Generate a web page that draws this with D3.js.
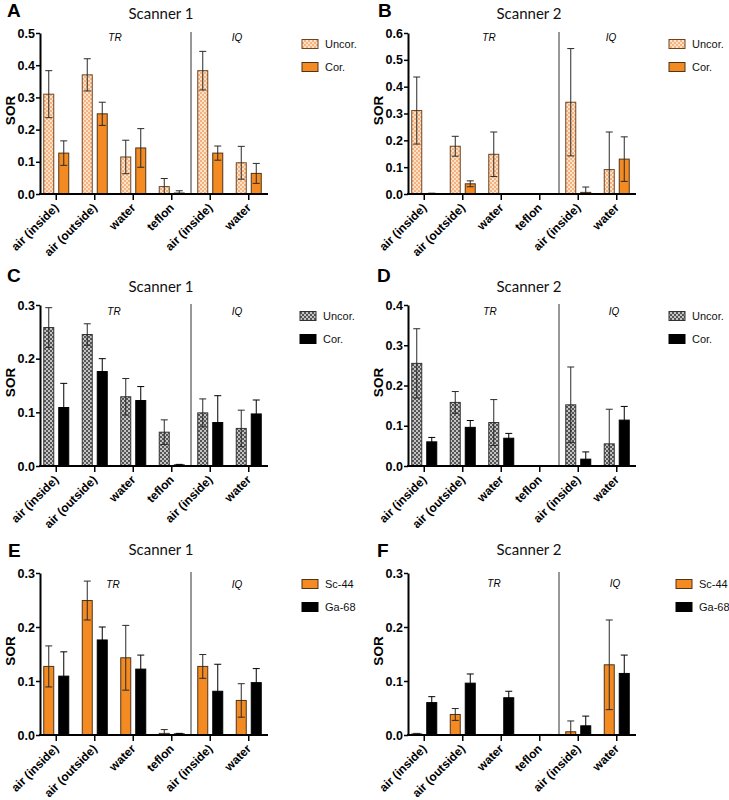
<!DOCTYPE html>
<html><head><meta charset="utf-8">
<script src="https://cdn.jsdelivr.net/npm/d3@7"></script>
<style>
body{margin:0;background:#fff;}
svg{display:block;}
</style></head>
<body>
<svg id="chart" width="729" height="800"></svg>
<script>
// ---- data ----
const categories = ["air (inside)", "air (outside)", "water", "teflon", "air (inside)", "water"];
const groupLabels = ["TR", "IQ"];
// Scanner 1, Sc-44
const s1Sc44UncorMean = [0.310, 0.370, 0.115, 0.023, 0.383, 0.097];
const s1Sc44UncorErr  = [0.073, 0.050, 0.052, 0.025, 0.060, 0.051];
const s1Sc44CorMean   = [0.127, 0.249, 0.143, 0.003, 0.127, 0.064];
const s1Sc44CorErr    = [0.038, 0.036, 0.060, 0.007, 0.022, 0.031];
// Scanner 2, Sc-44
const s2Sc44UncorMean = [0.311, 0.178, 0.148, 0.000, 0.342, 0.091];
const s2Sc44UncorErr  = [0.125, 0.037, 0.083, 0.000, 0.200, 0.140];
const s2Sc44CorMean   = [0.002, 0.038, 0.000, 0.000, 0.006, 0.130];
const s2Sc44CorErr    = [0.001, 0.011, 0.000, 0.000, 0.020, 0.083];
// Scanner 1, Ga-68
const s1Ga68UncorMean = [0.258, 0.245, 0.129, 0.063, 0.099, 0.070];
const s1Ga68UncorErr  = [0.037, 0.020, 0.034, 0.023, 0.026, 0.034];
const s1Ga68CorMean   = [0.109, 0.176, 0.122, 0.002, 0.081, 0.097];
const s1Ga68CorErr    = [0.045, 0.024, 0.026, 0.001, 0.050, 0.026];
// Scanner 2, Ga-68
const s2Ga68UncorMean = [0.255, 0.158, 0.108, 0.000, 0.152, 0.055];
const s2Ga68UncorErr  = [0.086, 0.027, 0.057, 0.000, 0.094, 0.086];
const s2Ga68CorMean   = [0.060, 0.096, 0.069, 0.001, 0.017, 0.114];
const s2Ga68CorErr    = [0.011, 0.017, 0.012, 0.000, 0.018, 0.034];

const ticksA = [0, 0.1, 0.2, 0.3, 0.4, 0.5];
const ticksB = [0, 0.1, 0.2, 0.3, 0.4, 0.5, 0.6];
const ticksC = [0, 0.1, 0.2, 0.3];
const ticksD = [0, 0.1, 0.2, 0.3, 0.4];

// ---- styles ----
const svg = d3.select("#chart");
const defs = svg.append("defs");
function checker(id, light, dark) {
  const p = defs.append("pattern").attr("id", id).attr("patternUnits", "userSpaceOnUse")
    .attr("width", 4).attr("height", 4);
  p.append("rect").attr("width", 4).attr("height", 4).attr("fill", light);
  p.append("rect").attr("width", 2).attr("height", 2).attr("fill", dark);
  p.append("rect").attr("x", 2).attr("y", 2).attr("width", 2).attr("height", 2).attr("fill", dark);
}
checker("patOrange", "#fde2c6", "#f4b283");
checker("patGray", "#c4c4c4", "#555555");

const ORANGE = "#f38a22";
const stUncorO = {fill: "url(#patOrange)", stroke: "#6e4420"};
const stCorO   = {fill: ORANGE, stroke: "#4f3318"};
const stUncorG = {fill: "url(#patGray)", stroke: "#333"};
const stBlack  = {fill: "#000", stroke: "#000"};

const panels = [
  {letter: "A", lx: 7,   ly: 17,  ty: 19,  title: "Scanner 1", ox: 40,  top: 33,  zero: 194, ticks: ticksA, ann: 8,
   series: [[s1Sc44UncorMean, s1Sc44UncorErr], [s1Sc44CorMean, s1Sc44CorErr]], styles: [stUncorO, stCorO],
   names: ["Uncor.", "Cor."], legX: 302, trX: 75, iqX: 197},
  {letter: "B", lx: 378, ly: 17,  ty: 19,  title: "Scanner 2", ox: 408, top: 33,  zero: 194, ticks: ticksB, ann: 8,
   series: [[s2Sc44UncorMean, s2Sc44UncorErr], [s2Sc44CorMean, s2Sc44CorErr]], styles: [stUncorO, stCorO],
   names: ["Uncor.", "Cor."], legX: 669, trX: 81, iqX: 203},
  {letter: "C", lx: 7,   ly: 282, ty: 292, title: "Scanner 1", ox: 40,  top: 305, zero: 466, ticks: ticksC, ann: 10,
   series: [[s1Ga68UncorMean, s1Ga68UncorErr], [s1Ga68CorMean, s1Ga68CorErr]], styles: [stUncorG, stBlack],
   names: ["Uncor.", "Cor."], legX: 300, trX: 74, iqX: 197},
  {letter: "D", lx: 377, ly: 282, ty: 292, title: "Scanner 2", ox: 408, top: 305, zero: 466, ticks: ticksD, ann: 10,
   series: [[s2Ga68UncorMean, s2Ga68UncorErr], [s2Ga68CorMean, s2Ga68CorErr]], styles: [stUncorG, stBlack],
   names: ["Uncor.", "Cor."], legX: 669, trX: 82, iqX: 206},
  {letter: "E", lx: 8,   ly: 557, ty: 555, title: "Scanner 1", ox: 40,  top: 573, zero: 735, ticks: ticksC, ann: 15,
   series: [[s1Sc44CorMean, s1Sc44CorErr], [s1Ga68CorMean, s1Ga68CorErr]], styles: [stCorO, stBlack],
   names: ["Sc-44", "Ga-68"], legX: 302, trX: 73, iqX: 197},
  {letter: "F", lx: 377, ly: 557, ty: 555, title: "Scanner 2", ox: 408, top: 573, zero: 735, ticks: ticksC, ann: 14,
   series: [[s2Sc44CorMean, s2Sc44CorErr], [s2Ga68CorMean, s2Ga68CorErr]], styles: [stCorO, stBlack],
   names: ["Sc-44", "Ga-68"], legX: 676, trX: 86, iqX: 207}
];

const BOLD = "'Liberation Sans', Arial, sans-serif";

panels.forEach(p => {
  const g = svg.append("g");
  const ymax = p.ticks[p.ticks.length - 1];
  const y = d3.scaleLinear().domain([0, ymax]).range([p.zero, p.top]);
  const x = d3.scaleBand().domain(d3.range(categories.length)).range([p.ox - 3, p.ox + 228]).padding(0);
  const axisEnd = p.ox + 228;

  // panel letter and title
  g.append("text").attr("x", p.lx).attr("y", p.ly).text(p.letter)
    .attr("font-family", BOLD).attr("font-weight", "bold").attr("font-size", 19).attr("fill", "#000");
  g.append("text").attr("x", p.ox + 121).attr("y", p.ty)
    .attr("text-anchor", "middle").text(p.title)
    .attr("font-family", "Lato, 'Open Sans', sans-serif").attr("font-size", 15).attr("fill", "#111");

  // divider between TR and IQ
  const divX = (x(3) + x(4) + x.bandwidth()) / 2;
  g.append("line").attr("x1", divX).attr("x2", divX).attr("y1", p.top - 1).attr("y2", p.zero)
    .attr("stroke", "#333").attr("stroke-width", 1);
  g.append("text").attr("x", p.ox + p.trX).attr("y", p.top + p.ann).attr("text-anchor", "middle")
    .text(groupLabels[0]).attr("font-family", BOLD).attr("font-style", "italic").attr("font-size", 10);
  g.append("text").attr("x", p.ox + p.iqX).attr("y", p.top + p.ann).attr("text-anchor", "middle")
    .text(groupLabels[1]).attr("font-family", BOLD).attr("font-style", "italic").attr("font-size", 10);

  // bars
  const bw = 10, gap = 5;
  p.series.forEach((s, si) => {
    const [means, errs] = s;
    const st = p.styles[si];
    const off = si === 0 ? -(gap / 2 + bw) : gap / 2;
    means.forEach((m, i) => {
      const cx = x(i) + x.bandwidth() / 2;
      if (m > 0) {
        g.append("rect").attr("x", cx + off).attr("width", bw)
          .attr("y", y(m)).attr("height", Math.max(0.5, y(0) - y(m)))
          .attr("fill", st.fill).attr("stroke", st.stroke).attr("stroke-width", 1);
      }
    });
    means.forEach((m, i) => {
      const e = errs[i];
      if (e <= 0) return;
      const cx = x(i) + x.bandwidth() / 2 + off + bw / 2;
      const hi = y(m + e), lo = y(Math.max(0, m - e));
      const col = st.fill === "#000" ? "#000" : "#2a2a2a";
      g.append("line").attr("x1", cx).attr("x2", cx).attr("y1", hi).attr("y2", lo)
        .attr("stroke", col).attr("stroke-width", 1);
      g.append("line").attr("x1", cx - 3.5).attr("x2", cx + 3.5).attr("y1", hi).attr("y2", hi)
        .attr("stroke", col).attr("stroke-width", 1);
      if (m - e > 0.003) {
        g.append("line").attr("x1", cx - 3.5).attr("x2", cx + 3.5).attr("y1", lo).attr("y2", lo)
          .attr("stroke", col).attr("stroke-width", 1);
      }
    });
  });

  // y axis
  const yAxis = d3.axisLeft(y).tickValues(p.ticks).tickFormat(d3.format(".1f")).tickSize(4).tickSizeOuter(0);
  const ya = g.append("g").attr("transform", `translate(${p.ox},0)`).call(yAxis);
  ya.select(".domain").attr("stroke-width", 2);
  ya.selectAll(".tick line").attr("stroke-width", 1.5);
  ya.selectAll("text").attr("font-family", BOLD).attr("font-weight", "bold").attr("font-size", 12.5).attr("fill", "#000").attr("x", -5);

  // x axis
  const xa = g.append("g").attr("transform", `translate(0,${p.zero})`);
  xa.append("line").attr("x1", p.ox - 1).attr("x2", axisEnd).attr("stroke", "#000").attr("stroke-width", 2);
  const xAxis = d3.axisBottom(x).tickFormat(i => categories[i]).tickSize(6).tickSizeOuter(0);
  const xg = xa.append("g").call(xAxis);
  xg.select(".domain").remove();
  xg.selectAll(".tick line").attr("stroke-width", 1.5);
  xg.selectAll("text").attr("font-family", BOLD).attr("font-weight", "bold").attr("font-size", 12).attr("fill", "#000")
    .attr("text-anchor", "end").attr("y", 0).attr("dy", 0)
    .attr("transform", "translate(3,14.5) rotate(-45)");

  // SOR label
  g.append("text").attr("transform", `translate(${p.ox - 30},${(p.top + p.zero) / 2 - 3}) rotate(-90)`)
    .attr("text-anchor", "middle").attr("dominant-baseline", "central").text("SOR")
    .attr("font-family", BOLD).attr("font-weight", "bold").attr("font-size", 13.5);

  // legend
  p.names.forEach((n, k) => {
    const ly = p.top + 6.5 + k * 23;
    const st = p.styles[k];
    g.append("rect").attr("x", p.legX).attr("y", ly).attr("width", 16).attr("height", 9)
      .attr("fill", st.fill).attr("stroke", st.stroke).attr("stroke-width", 1);
    g.append("text").attr("x", p.legX + 23).attr("y", ly + 4.5).attr("dominant-baseline", "central")
      .text(n).attr("font-family", BOLD).attr("font-size", 11).attr("fill", "#111");
  });
});
</script>
</body></html>
